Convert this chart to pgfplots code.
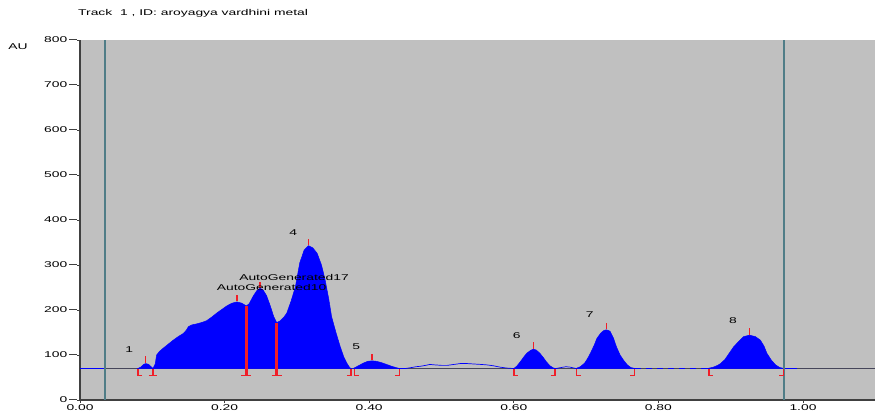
\documentclass[border=0pt]{standalone}
\usepackage{fontspec}
\setmainfont{Liberation Sans}
\usepackage{graphicx}
\usepackage{pgfplots}
\pgfplotsset{compat=1.18}
\definecolor{bggray}{RGB}{192,192,192}
\definecolor{tealline}{RGB}{80,125,135}
\definecolor{rd}{RGB}{240,30,40}
\definecolor{pk}{RGB}{0,0,255}
\definecolor{basegray}{RGB}{70,70,90}
\newcommand\W[1]{\scalebox{1.65}[1]{\fontsize{8.4}{9}\selectfont #1}}
\newcommand\Y[1]{\W{#1}\hspace{1.5pt}{\color{black!75}\rule[2.6pt]{8pt}{0.8pt}}}
\begin{document}
\begin{tikzpicture}[x=1pt,y=1pt]
\path[use as bounding box] (0,0) rectangle (875,416);
\begin{axis}[at={(80pt,16pt)}, anchor=south west, scale only axis,
  width=795pt, height=360pt,
  xmin=0, xmax=1.0996, ymin=0, ymax=800,
  axis lines*=left,
  axis line style={line width=1.2pt, color=black!75},
  axis background/.style={fill=bggray},
  xtick={0,0.2,0.4,0.6,0.8,1.0},
  xticklabels={\W{0.00},\W{0.20},\W{0.40},\W{0.60},\W{0.80},\W{1.00}},
  ytick={0,100,200,300,400,500,600,700,800},
  yticklabels={\Y{0},\Y{100},\Y{200},\Y{300},\Y{400},\Y{500},\Y{600},\Y{700},\Y{800}},
  tick align=outside, major tick length=3pt,
  tick style={black!75, line width=0.8pt},
  yticklabel style={inner sep=0pt},
  xticklabel style={inner sep=1.5pt},
]
% baseline
\addplot[basegray, line width=0.7pt] coordinates {(0.035,70) (1.0996,70)};
\addplot[pk, line width=0.7pt] coordinates {(0,70) (0.035,70)};
% filled peaks
\addplot[pk, fill=pk, line width=0.5pt] coordinates {(0.080,70) (0.084,73) (0.088,79) (0.091,81) (0.095,79) (0.099,73) (0.101,70)} -- cycle;
\addplot[pk, fill=pk, line width=0.5pt] coordinates {(0.101,70) (0.104,80) (0.106,100) (0.110,108) (0.115,115) (0.122,124) (0.129,133) (0.136,141) (0.143,148) (0.147,155) (0.150,163) (0.155,167) (0.161,169) (0.168,172) (0.175,176) (0.182,184) (0.189,193) (0.196,201) (0.203,209) (0.210,215) (0.217,218) (0.224,215) (0.230,209) (0.234,214) (0.240,232) (0.245,244) (0.249,248) (0.253,245) (0.258,232) (0.263,210) (0.268,185) (0.272,172) (0.277,176) (0.282,184) (0.286,193) (0.292,220) (0.298,252) (0.304,305) (0.310,333) (0.316,343) (0.322,338) (0.328,326) (0.334,300) (0.339,267) (0.344,225) (0.348,185) (0.354,150) (0.360,118) (0.365,95) (0.369,82) (0.373,72) (0.375,70)} -- cycle;
\addplot[pk, fill=pk, line width=0.5pt] coordinates {(0.378,70) (0.385,76) (0.392,82) (0.398,86) (0.404,87) (0.410,86) (0.417,83) (0.424,79) (0.431,75) (0.437,72) (0.442,70)} -- cycle;
\addplot[pk, fill=pk, line width=0.5pt] coordinates {(0.600,70) (0.604,75) (0.609,85) (0.614,96) (0.618,104) (0.623,110) (0.627,113) (0.631,111) (0.636,104) (0.641,94) (0.645,85) (0.650,76) (0.655,71) (0.658,70)} -- cycle;
\addplot[pk, fill=pk, line width=0.5pt] coordinates {(0.686,70) (0.692,74) (0.698,82) (0.702,92) (0.706,104) (0.711,121) (0.715,137) (0.720,148) (0.724,154) (0.728,156) (0.733,153) (0.738,137) (0.742,118) (0.747,100) (0.752,88) (0.757,78) (0.762,72) (0.768,70)} -- cycle;
\addplot[pk, fill=pk, line width=0.5pt] coordinates {(0.868,70) (0.876,73) (0.882,77) (0.886,81) (0.892,90) (0.898,104) (0.904,118) (0.911,130) (0.918,141) (0.926,144) (0.934,141) (0.941,133) (0.946,120) (0.950,104) (0.956,89) (0.962,78) (0.968,72) (0.974,70)} -- cycle;
% unfilled trace parts
\addplot[pk, line width=0.7pt] coordinates {(0.442,70) (0.450,70) (0.458,72) (0.465,74) (0.471,75) (0.478,77) (0.484,79) (0.491,78) (0.500,77) (0.508,77) (0.517,79) (0.526,81) (0.535,81) (0.545,80) (0.555,79) (0.563,78) (0.572,76) (0.581,73) (0.590,71) (0.600,70)};
\addplot[pk, line width=0.7pt] coordinates {(0.658,70) (0.665,72) (0.672,74) (0.678,73) (0.686,70)};
\addplot[pk, line width=0.7pt, dash pattern=on 6pt off 5pt] coordinates {(0.768,70) (0.868,70)};
\addplot[pk, line width=0.7pt] coordinates {(0.974,70) (0.992,70)};
% teal markers
\addplot[tealline, line width=1.6pt] coordinates {(0.0346,0) (0.0346,800)};
\addplot[tealline, line width=1.6pt] coordinates {(0.9735,0) (0.9735,800)};
% peak boundary brackets
\addplot[rd, line width=1.4pt] coordinates {(0.086,55) (0.080,55) (0.080,70)};
\addplot[rd, line width=1.4pt] coordinates {(0.101,70) (0.101,55)};
\addplot[rd, line width=1.4pt] coordinates {(0.095,55) (0.107,55)};
\addplot[rd, line width=2.6pt] coordinates {(0.230,209) (0.230,55)};
\addplot[rd, line width=1.4pt] coordinates {(0.223,55) (0.237,55)};
\addplot[rd, line width=2.6pt] coordinates {(0.272,172) (0.272,55)};
\addplot[rd, line width=1.4pt] coordinates {(0.265,55) (0.279,55)};
\addplot[rd, line width=1.4pt] coordinates {(0.369,55) (0.375,55) (0.375,70)};
\addplot[rd, line width=1.4pt] coordinates {(0.380,70) (0.380,55) (0.386,55)};
\addplot[rd, line width=1.4pt] coordinates {(0.436,55) (0.442,55) (0.442,70)};
\addplot[rd, line width=1.4pt] coordinates {(0.600,70) (0.600,55) (0.606,55)};
\addplot[rd, line width=1.4pt] coordinates {(0.651,55) (0.657,55) (0.657,70)};
\addplot[rd, line width=1.4pt] coordinates {(0.687,70) (0.687,55) (0.693,55)};
\addplot[rd, line width=1.4pt] coordinates {(0.761,55) (0.767,55) (0.767,70)};
\addplot[rd, line width=1.4pt] coordinates {(0.870,70) (0.870,55) (0.876,55)};
\addplot[rd, line width=1.4pt] coordinates {(0.967,55) (0.973,55) (0.973,70)};
% peak maximum ticks
\addplot[rd, line width=1.4pt] coordinates {(0.091,83) (0.091,97)};
\addplot[rd, line width=1.4pt] coordinates {(0.217,220) (0.217,234)};
\addplot[rd, line width=1.4pt] coordinates {(0.249,250) (0.249,263)};
\addplot[rd, line width=1.4pt] coordinates {(0.316,344) (0.316,358)};
\addplot[rd, line width=1.4pt] coordinates {(0.404,89) (0.404,103)};
\addplot[rd, line width=1.4pt] coordinates {(0.627,114) (0.627,128)};
\addplot[rd, line width=1.4pt] coordinates {(0.728,157) (0.728,172)};
\addplot[rd, line width=1.4pt] coordinates {(0.926,145) (0.926,160)};
% peak labels
\node[inner sep=0pt] at (axis cs:0.068,111) {\W{1}};
\node[inner sep=0pt] at (axis cs:0.265,249) {\W{AutoGenerated10}};
\node[inner sep=0pt] at (axis cs:0.296,273) {\W{AutoGenerated17}};
\node[inner sep=0pt] at (axis cs:0.295,373) {\W{4}};
\node[inner sep=0pt] at (axis cs:0.382,118) {\W{5}};
\node[inner sep=0pt] at (axis cs:0.604,144) {\W{6}};
\node[inner sep=0pt] at (axis cs:0.705,189) {\W{7}};
\node[inner sep=0pt] at (axis cs:0.903,176) {\W{8}};
\end{axis}
\node[inner sep=0pt] at (18,369) {\W{AU}};
\node[inner sep=0pt, anchor=west] at (78,403) {\W{Track\ \ 1 , ID: aroyagya vardhini metal}};
\end{tikzpicture}
\end{document}
